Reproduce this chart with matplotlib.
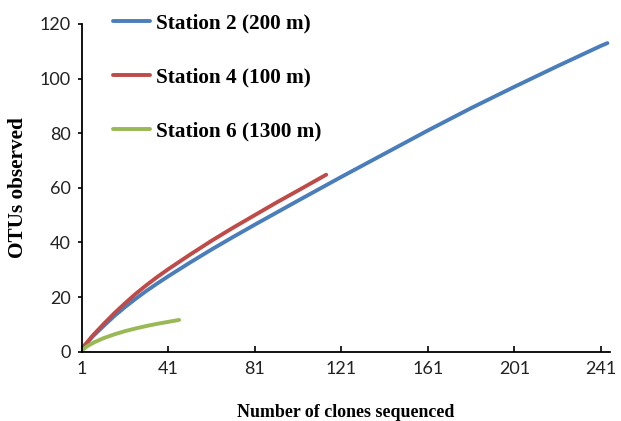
import matplotlib
matplotlib.use("Agg")
import matplotlib.pyplot as plt

# ==============================
# DATA
# ==============================
ST2_X = [1, 6, 11, 16, 21, 26, 31, 36, 41, 51, 61, 71, 81, 101, 121, 141, 161, 181, 201, 221, 241, 244]
ST2_Y = [1, 5.5, 9.3, 13, 16.3, 19.4, 22.3, 25, 27.6, 32.6, 37.4, 42, 46.5, 55.3, 64, 72.5, 81,
         89.2, 97, 104.6, 112, 113]

ST4_X = [1, 6, 11, 16, 21, 26, 31, 36, 41, 51, 61, 71, 81, 91, 101, 114]
ST4_Y = [1, 5.8, 10, 14, 17.7, 21.2, 24.4, 27.4, 30.2, 35.5, 40.6, 45.4, 50, 54.6, 59, 64.8]

ST6_X = [1, 4, 7, 11, 16, 21, 26, 31, 36, 41, 46]
ST6_Y = [0.5, 2.2, 3.5, 4.9, 6.3, 7.5, 8.5, 9.4, 10.2, 10.9, 11.6]

LABELS = ["Station 2 (200 m)", "Station 4 (100 m)", "Station 6 (1300 m)"]
COLORS = ["#4a7ebb", "#be4b48", "#98b954"]

X_TICKS = [1, 41, 81, 121, 161, 201, 241]
Y_TICKS = [0, 20, 40, 60, 80, 100, 120]

# ==============================
# PLOT
# ==============================
fig = plt.figure(figsize=(6.21, 4.21), dpi=100)
ax = fig.add_axes([0.1316, 0.1648, 0.8507, 0.7782])

series = [(ST2_X, ST2_Y), (ST4_X, ST4_Y), (ST6_X, ST6_Y)]
for (xs, ys), lab, col in zip(series, LABELS, COLORS):
    ax.plot(xs, ys, color=col, lw=2.8, label=lab,
            solid_capstyle="round", solid_joinstyle="round")

ax.set_xlim(1, 245.2)
ax.set_ylim(0, 120)
ax.set_xticks(X_TICKS)
ax.set_yticks(Y_TICKS)

for s in ["top", "right"]:
    ax.spines[s].set_visible(False)
for s in ["left", "bottom"]:
    ax.spines[s].set_linewidth(1.3)

ax.tick_params(axis="x", direction="in", length=4.5, width=1.2, pad=7)
ax.tick_params(axis="y", direction="out", length=3, width=1.2, pad=5)
for t in ax.get_xticklabels() + ax.get_yticklabels():
    t.set_fontfamily("Lato")
    t.set_fontsize(13)
    t.set_color("#222222")

ax.set_xlabel("Number of clones sequenced", fontfamily="Liberation Serif",
              fontweight="bold", fontsize=12.9, labelpad=19)
ax.set_ylabel("OTUs observed", fontfamily="Liberation Serif",
              fontweight="bold", fontsize=15.3)
ax.yaxis.set_label_coords(-(81.7 - 28) / 528.3, 0.5)

leg = fig.legend(loc="upper left", bbox_to_anchor=(113 / 621, 1 - 13 / 421),
                 frameon=False, borderpad=0, borderaxespad=0,
                 prop={"family": "Liberation Serif", "weight": "bold", "size": 15.3},
                 labelspacing=1.62, handlelength=1.75, handletextpad=0.25)

fig.savefig("out.png", dpi=100)
